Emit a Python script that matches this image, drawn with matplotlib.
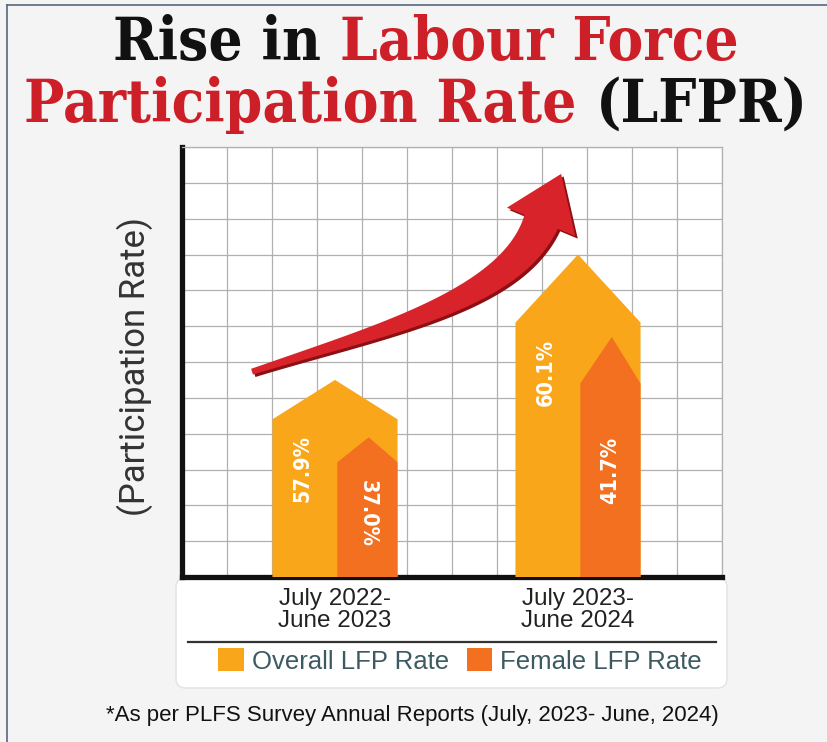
import numpy as np
import matplotlib
matplotlib.use("Agg")
import matplotlib.pyplot as plt
from matplotlib.patches import Polygon, Patch, FancyBboxPatch
from matplotlib.lines import Line2D
from matplotlib import font_manager
from matplotlib.font_manager import FontProperties

# Datos
categories = ["July 2022-\nJune 2023", "July 2023-\nJune 2024"]
overall_rate = [57.9, 60.1]
female_rate = [37.0, 41.7]
# alturas dibujadas (en celdas de la grilla), el grafico original no esta a escala
overall_shoulder = [4.4, 7.1]
overall_peak = [5.5, 9.0]
female_shoulder = [3.2, 5.4]
female_peak = [3.9, 6.7]

W, H = 827, 742
C_OVERALL = "#f9a61a"
C_FEMALE = "#f37021"
C_RED = "#cc1f27"


def find_font(name):
    for f in font_manager.fontManager.ttflist:
        if f.fname.endswith(name):
            return f.fname
    return None


sans_cond = find_font("DejaVuSansCondensed-Bold.ttf")
serif_cond = find_font("DejaVuSerifCondensed-Bold.ttf")

fig = plt.figure(figsize=(W / 100, H / 100), dpi=100)
fig.patch.set_facecolor("#f5f4f4")

# borde del marco
fig.add_artist(Line2D([7 / W, 7 / W], [0, 1 - 5 / H], color="#56677f", lw=1.2))
fig.add_artist(Line2D([7 / W, 1], [1 - 5 / H, 1 - 5 / H], color="#56677f", lw=1.2))

# panel blanco de etiquetas y leyenda
panel = FancyBboxPatch((176 / W, 1 - 688 / H), 551 / W, 110 / H,
                       boxstyle="round,pad=0,rounding_size=0.012",
                       transform=fig.transFigure, facecolor="white",
                       edgecolor="#e2e2e2", lw=1, zorder=0)
fig.add_artist(panel)
fig.add_artist(Line2D([188 / W, 716 / W], [1 - 642 / H, 1 - 642 / H], color="#333333", lw=1.6))

ax = fig.add_axes([182 / W, 1 - 577 / H, 540 / W, 430 / H])
ax.set_zorder(1)
ax.set_facecolor("white")
ax.set_xlim(0, 12)
ax.set_ylim(0, 12)
ax.set_xticks(np.arange(13), minor=True)
ax.set_yticks(np.arange(13))
ax.set_yticklabels([])
ax.grid(which="minor", axis="x", color="#b0b0b0", lw=0.9)
ax.grid(which="major", axis="y", color="#b0b0b0", lw=0.9)
ax.set_axisbelow(True)
ax.tick_params(which="both", length=0)
for s in ["top", "right"]:
    ax.spines[s].set_color("#b0b0b0")
    ax.spines[s].set_linewidth(0.9)
for s in ["left", "bottom"]:
    ax.spines[s].set_color("#111111")
    ax.spines[s].set_linewidth(3.8)

centers = np.array([3.4, 8.8])
ov_w = 2.78
fe_w = 1.34

if sans_cond:
    lab_font = FontProperties(fname=sans_cond, size=15.5)
else:
    lab_font = FontProperties(family="DejaVu Sans", weight="bold", size=14)


def arrow_bar(x0, x1, sh, pk, xpk, color):
    pts = [(x0, 0), (x0, sh), (xpk, pk), (x1, sh), (x1, 0)]
    ax.add_patch(Polygon(pts, closed=True, facecolor=color, edgecolor="none", zorder=3))


for i in range(len(categories)):
    x0 = centers[i] - ov_w / 2
    x1 = centers[i] + ov_w / 2
    arrow_bar(x0, x1, overall_shoulder[i], overall_peak[i], centers[i], C_OVERALL)
    f0 = x1 - fe_w
    arrow_bar(f0, x1, female_shoulder[i], female_peak[i], f0 + fe_w / 2 + 0.03, C_FEMALE)
    ax.text(x0 + 0.24 * ov_w, overall_shoulder[i] - 0.45, f"{overall_rate[i]:.1f}%",
            rotation=90, ha="center", va="top", color="white",
            fontproperties=lab_font, zorder=5)
    rot = -90 if i == 0 else 90
    ax.text(f0 + fe_w / 2, female_shoulder[i] * 0.55, f"{female_rate[i]:.1f}%",
            rotation=rot, ha="center", va="center", color="white",
            fontproperties=lab_font, zorder=5)

ax.set_xticks(centers)
ax.set_xticklabels(categories, fontsize=17.5, color="#222222", family="Liberation Sans",
                   linespacing=1.0)
ax.tick_params(axis="x", pad=8)

# flecha roja curva
fig.canvas.draw()
ctrl = ax.transData.transform([(1.556, 5.73), (4.4, 6.9), (7.29, 7.73), (7.98, 9.91)])
t = np.linspace(0, 1, 80)[:, None]
curve = ((1 - t) ** 3 * ctrl[0] + 3 * (1 - t) ** 2 * t * ctrl[1]
         + 3 * (1 - t) * t ** 2 * ctrl[2] + t ** 3 * ctrl[3])
d = np.gradient(curve, axis=0)
d /= np.linalg.norm(d, axis=1)[:, None]
n = np.column_stack([d[:, 1], -d[:, 0]])
w = (6 + 30 * t[:, 0] ** 1.2) / 2
left = curve + n * w[:, None]
right = curve - n * w[:, None]
u = d[-1]
nn = n[-1]
base = curve[-1]
head = [base - nn * 37, base + u * 52, base + nn * 37]
poly = np.vstack([right, head, left[::-1]])
inv = ax.transData.inverted()
ax.add_patch(Polygon(inv.transform(poly + [2.5, -2.5]), closed=True, facecolor="#8c0f14",
                     edgecolor="none", zorder=4, clip_on=False))
ax.add_patch(Polygon(inv.transform(poly), closed=True, facecolor="#d8232a",
                     edgecolor="none", zorder=4, clip_on=False))

# titulo en dos colores
r = fig.canvas.get_renderer()
if serif_cond:
    title_font = FontProperties(fname=serif_cond, size=43)
else:
    title_font = FontProperties(family="DejaVu Serif", weight="bold", size=40)


def title_line(part_a, col_a, part_b, col_b, x_px, y_px):
    kw = dict(fontproperties=title_font, va="baseline")
    full = fig.text(x_px / W, 1 - y_px / H, part_a + " " + part_b, ha="center", alpha=0, **kw)
    bb = full.get_window_extent(r)
    fig.text(bb.x0 / W, 1 - y_px / H, part_a, ha="left", color=col_a, **kw)
    fig.text(bb.x1 / W, 1 - y_px / H, part_b, ha="right", color=col_b, **kw)


title_line("Rise in", "#111111", "Labour Force", C_RED, 426, 60)
title_line("Participation Rate", C_RED, "(LFPR)", "#111111", 416, 122)

fig.text(135 / W, 1 - 366 / H, "(Participation Rate)", rotation=90, ha="center", va="center",
         fontsize=25, color="#333333", family="Roboto")

handles = [Patch(facecolor=C_OVERALL, label="Overall LFP Rate"),
           Patch(facecolor=C_FEMALE, label="Female LFP Rate")]
fig.legend(handles=handles, loc="center", bbox_to_anchor=(460 / W, 1 - 661 / H), ncol=2,
           frameon=False, handlelength=1.0, handleheight=1.0, handletextpad=0.3,
           columnspacing=0.7, prop={"family": "Liberation Sans", "size": 18.5},
           labelcolor="#3d5a63")

fig.text(412 / W, 1 - 716 / H, "*As per PLFS Survey Annual Reports (July, 2023- June, 2024)",
         ha="center", va="center", fontsize=16, color="#111111", family="Liberation Sans")

fig.savefig("out.png", dpi=100, facecolor=fig.get_facecolor())
